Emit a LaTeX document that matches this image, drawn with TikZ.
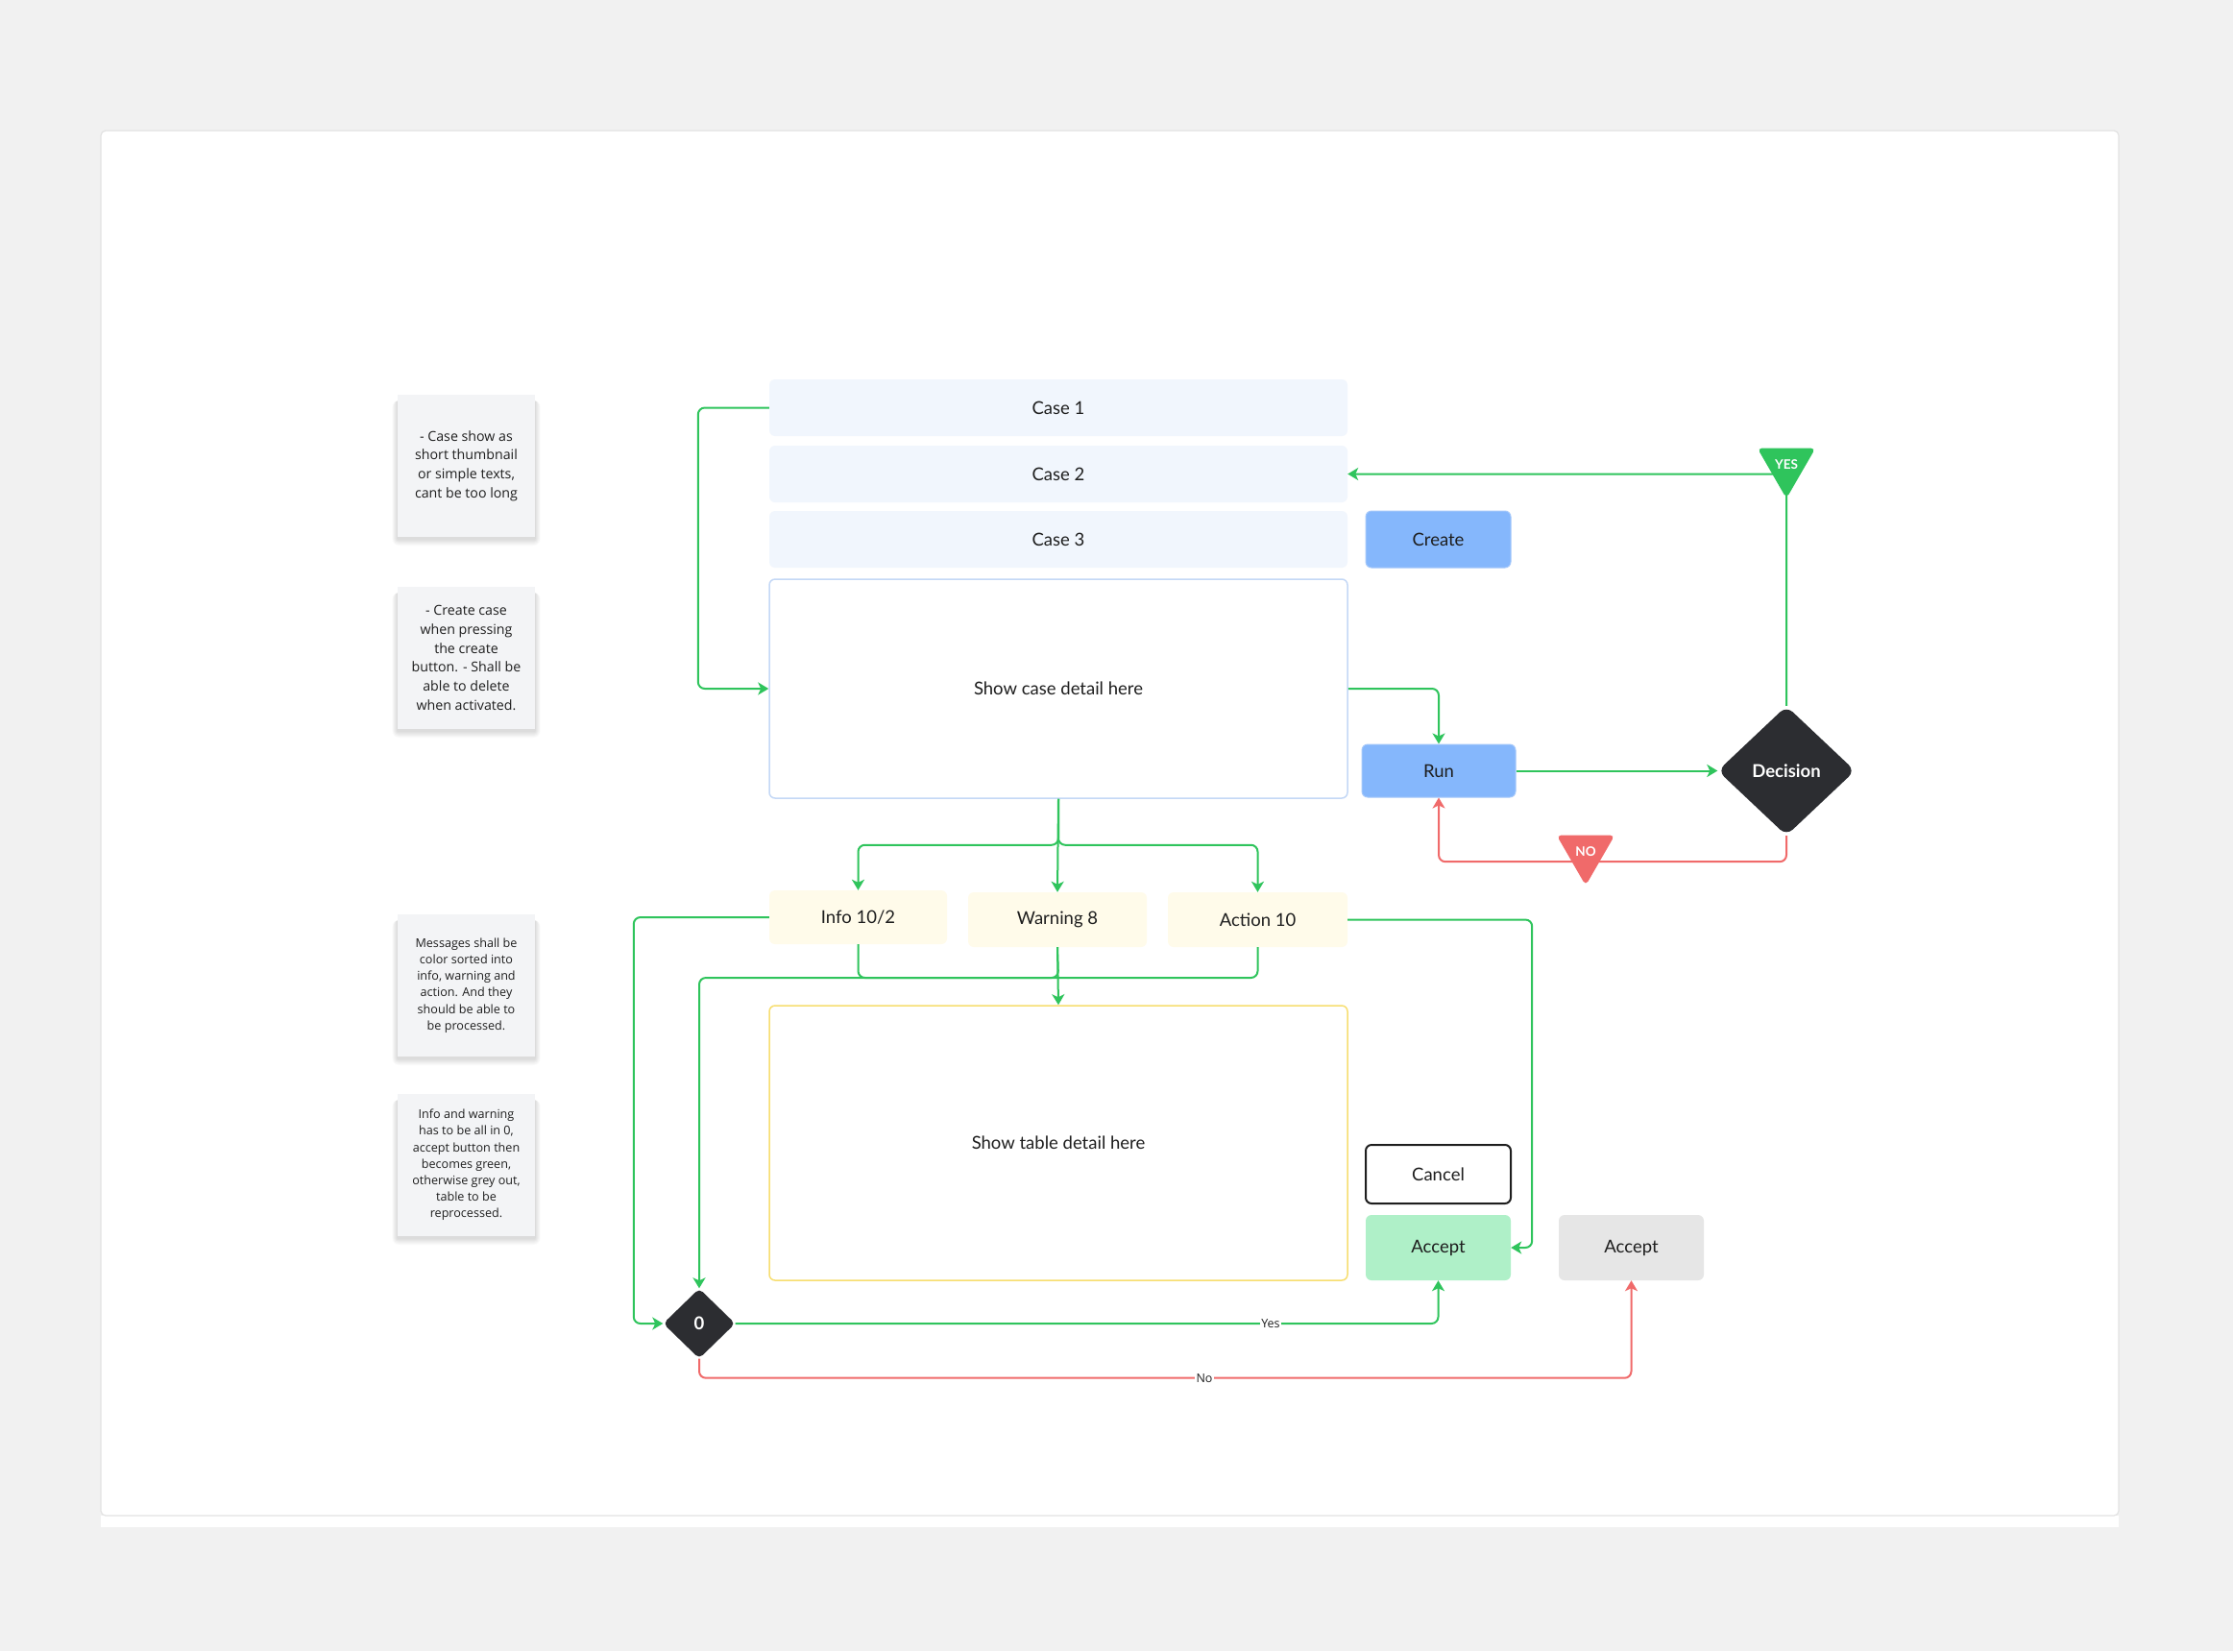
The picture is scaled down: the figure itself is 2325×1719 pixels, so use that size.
\documentclass[tikz,border=0pt]{standalone}
\usepackage{fontspec}
\setmainfont{Lato}
\newfontfamily\notefont{Open Sans}
\usetikzlibrary{shapes.geometric,arrows.meta}

\definecolor{pagebg}{RGB}{241,241,241}
\definecolor{frameline}{RGB}{226,226,226}
\definecolor{casefill}{RGB}{241,246,253}
\definecolor{detailline}{RGB}{196,216,246}
\definecolor{btnblue}{RGB}{133,183,252}
\definecolor{btnblueline}{RGB}{165,200,250}
\definecolor{darkshape}{RGB}{44,45,49}
\definecolor{okgreen}{RGB}{47,196,92}
\definecolor{nored}{RGB}{240,106,106}
\definecolor{msgfill}{RGB}{255,251,234}
\definecolor{tableline}{RGB}{247,222,112}
\definecolor{acceptfill}{RGB}{175,240,200}
\definecolor{greyfill}{RGB}{230,230,230}
\definecolor{notefill}{RGB}{243,244,246}
\definecolor{ink}{RGB}{30,30,30}

\tikzset{
  box/.style={rectangle, rounded corners=6pt, inner sep=0pt, text=ink,
    font=\fontsize{18.5}{22}\selectfont},
  casebox/.style={box, fill=casefill, minimum width=602pt, minimum height=59pt},
  btn/.style={box, fill=btnblue, draw=btnblueline, line width=1pt,
    minimum width=151pt, minimum height=59pt},
  msg/.style={box, fill=msgfill, minimum height=57pt},
  sticky/.style={rectangle, fill=notefill, minimum width=143pt, minimum height=148pt,
    inner sep=0pt, align=center, text=ink},
  bignote/.style={sticky, font=\notefont\fontsize{14.2}{19.7}\selectfont},
  smallnote/.style={sticky, font=\notefont\fontsize{12.6}{17.2}\selectfont},
  decide/.style={diamond, fill=darkshape, inner sep=0pt, text=white,
    font=\bfseries\fontsize{18.5}{22}\selectfont},
  tri/.style={regular polygon, regular polygon sides=3, shape border rotate=180,
    minimum size=70pt, inner sep=0pt, rounded corners=5pt, text=white,
    font=\bfseries\fontsize{13.5}{15}\selectfont},
  tip/.style={-{Stealth[length=11pt,width=13pt,inset=3pt]}},
  flow/.style={draw=okgreen, line width=2pt, rounded corners=7pt, tip},
  joinline/.style={draw=okgreen, line width=2pt, rounded corners=7pt},
  noflow/.style={draw=nored, line width=2pt, rounded corners=7pt, tip},
  elabel/.style={fill=white, inner sep=1.5pt, text=ink,
    font=\notefont\fontsize{12.5}{14}\selectfont},
}

\begin{document}
\begin{tikzpicture}[x=1pt, y=-1pt]
  % page and canvas frame
  \useasboundingbox (0,0) rectangle (2325,1719);
  \fill[pagebg] (0,0) rectangle (2325,1719);
  \fill[white] (105,1578) rectangle (2206,1590);
  \draw[frameline, fill=white, line width=1.2pt, rounded corners=5pt]
    (105,136) rectangle (2206,1578);

  % soft shadows under the sticky notes (stacked translucent layers)
  \foreach \cy in {485,685,1026,1213} {
    \foreach \s in {1,...,7} {
      \fill[black, opacity=0.018, rounded corners=\s pt]
        (485.5-71.5-\s*0.8, \cy-74+6) rectangle (485.5+71.5+\s*0.8, \cy+74+2+\s);
    }
  }

  % sticky notes
  \node[bignote] (n1) at (485.5,485) {- Case show as\\short thumbnail\\or simple texts,\\cant be too long};
  \node[bignote] (n2) at (485.5,685) {- Create case\\when pressing\\the create\\button. - Shall be\\able to delete\\when activated.};
  \node[smallnote] (n3) at (485.5,1026) {Messages shall be\\color sorted into\\info, warning and\\action. And they\\should be able to\\be processed.};
  \node[smallnote] (n4) at (485.5,1213) {Info and warning\\has to be all in 0,\\accept button then\\becomes green,\\otherwise grey out,\\table to be\\reprocessed.};

  % case list and detail
  \node[casebox] (case1) at (1102,424.5) {Case 1};
  \node[casebox] (case2) at (1102,493.5) {Case 2};
  \node[casebox] (case3) at (1102,561.5) {Case 3};
  \node[box, draw=detailline, line width=1.5pt, fill=white,
        minimum width=602pt, minimum height=228pt] (detail) at (1102,717) {Show case detail here};

  % buttons and decision
  \node[btn] (create) at (1497.5,561.5) {Create};
  \node[btn, minimum width=160pt, minimum height=55pt] (run) at (1498,802.5) {Run};
  \node[decide, rounded corners=9pt, minimum width=143pt, minimum height=135pt] (dec) at (1860,802.5) {Decision};

  % messages
  \node[msg, minimum width=185pt, minimum height=56pt] (info) at (893.5,955) {Info 10/2};
  \node[msg, minimum width=186pt] (warn) at (1101,957.5) {Warning 8};
  \node[msg, minimum width=187pt] (action) at (1309.5,957.5) {Action 10};

  % table and actions
  \node[box, draw=tableline, line width=1.5pt, fill=white,
        minimum width=602pt, minimum height=286pt] (table) at (1102,1190) {Show table detail here};
  \node[box, draw=ink, line width=2pt, fill=white,
        minimum width=151pt, minimum height=61pt] (cancel) at (1497.5,1222.5) {Cancel};
  \node[box, fill=acceptfill, minimum width=151pt, minimum height=68pt] (acceptok) at (1497.5,1299) {Accept};
  \node[box, fill=greyfill, minimum width=151pt, minimum height=68pt] (acceptoff) at (1698.5,1299) {Accept};
  \node[decide, rounded corners=5pt, minimum width=75pt, minimum height=73pt] (zero) at (728,1378) {0};

  % connectors: cases and run loop
  \draw[flow] (case1.west) -- ++(-74,0) |- (detail.west);
  \draw[flow] (detail.east) -| (run.north);
  \draw[flow] (run.east) -- (dec.west);
  \draw[flow] (dec.north) |- (case2.east);
  \draw[noflow] (dec.south) -- ++(0,27) -| (run.south);

  % connectors: detail to messages
  \draw[flow] (detail.south) -- (warn.north);
  \draw[flow] (detail.south) -- ++(0,48) -| (info.north);
  \draw[flow] (detail.south) -- ++(0,48) -| (action.north);

  % connectors: messages to table and check
  \coordinate (merge) at (1102,1018);
  \draw[joinline] (info.south) |- (merge);
  \draw[joinline] (action.south) |- (merge);
  \draw[flow] (warn.south) -- (table.north);
  \draw[flow] (warn.south) -- (merge) -| (zero.north);
  \draw[flow] (info.west) -- ++(-141,0) |- (zero.west);
  \draw[flow] (action.east) -- ++(192,0) |- (acceptok.east);

  % connectors: check result
  \draw[flow] (zero.east) -| (acceptok.south);
  \draw[noflow] (zero.south) -- ++(0,20) -| (acceptoff.south);
  \node[elabel] (yestag) at (1323,1378) {Yes};
  \node[elabel] (notag) at (1254,1435) {No};

  % decision tags
  \node[tri, fill=okgreen] (yes) at (1860,484) {YES};
  \node[tri, fill=nored] (no) at (1651,887) {NO};
\end{tikzpicture}
\end{document}
